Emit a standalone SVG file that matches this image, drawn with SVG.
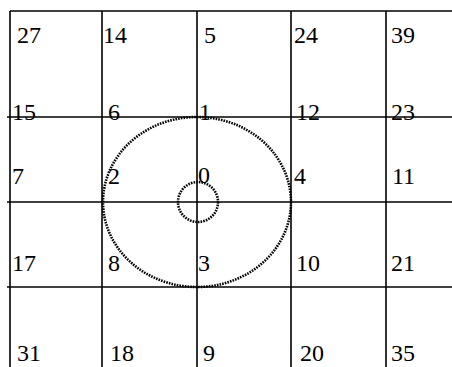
<svg xmlns="http://www.w3.org/2000/svg" width="452" height="367" viewBox="0 0 452 367">
<style>
.g{stroke:#000;stroke-width:1.6;fill:none}
.d{stroke:#000;stroke-width:2.6;fill:none;stroke-dasharray:1.6 1.1}
.t text{font-size:24px;fill:#000}
</style>
<rect width="452" height="367" fill="#fff"/>
<g id="grid">
<line class="g" x1="10" y1="11" x2="452" y2="11"/>
<line class="g" x1="7" y1="117" x2="452" y2="117"/>
<line class="g" x1="7" y1="202" x2="452" y2="202"/>
<line class="g" x1="7" y1="287" x2="452" y2="287"/>
<line class="g" x1="10" y1="11" x2="10" y2="367"/>
<line class="g" x1="102" y1="11" x2="102" y2="367"/>
<line class="g" x1="197" y1="11" x2="197" y2="367"/>
<line class="g" x1="291" y1="11" x2="291" y2="367"/>
<line class="g" x1="386" y1="11" x2="386" y2="367"/>
</g>
<g id="circles">
<ellipse class="d" cx="197" cy="202" rx="94" ry="85"/>
<circle class="d" cx="198" cy="202" r="20"/>
</g>
<g id="labels" class="t" font-family="'Liberation Serif', 'Times New Roman', serif">
<text x="17" y="43">27</text>
<text x="103" y="43">14</text>
<text x="204" y="43">5</text>
<text x="294" y="43">24</text>
<text x="391" y="43">39</text>
<text x="12" y="120">15</text>
<text x="108" y="120">6</text>
<text x="199" y="120">1</text>
<text x="296" y="120">12</text>
<text x="391" y="120">23</text>
<text x="12" y="184">7</text>
<text x="108" y="184">2</text>
<text x="198" y="183">0</text>
<text x="294" y="184">4</text>
<text x="392" y="184">11</text>
<text x="12" y="271">17</text>
<text x="108" y="271">8</text>
<text x="198" y="271">3</text>
<text x="296" y="271">10</text>
<text x="391" y="271">21</text>
<text x="17" y="361">31</text>
<text x="110" y="361">18</text>
<text x="203" y="361">9</text>
<text x="300" y="361">20</text>
<text x="391" y="361">35</text>
</g>
</svg>
